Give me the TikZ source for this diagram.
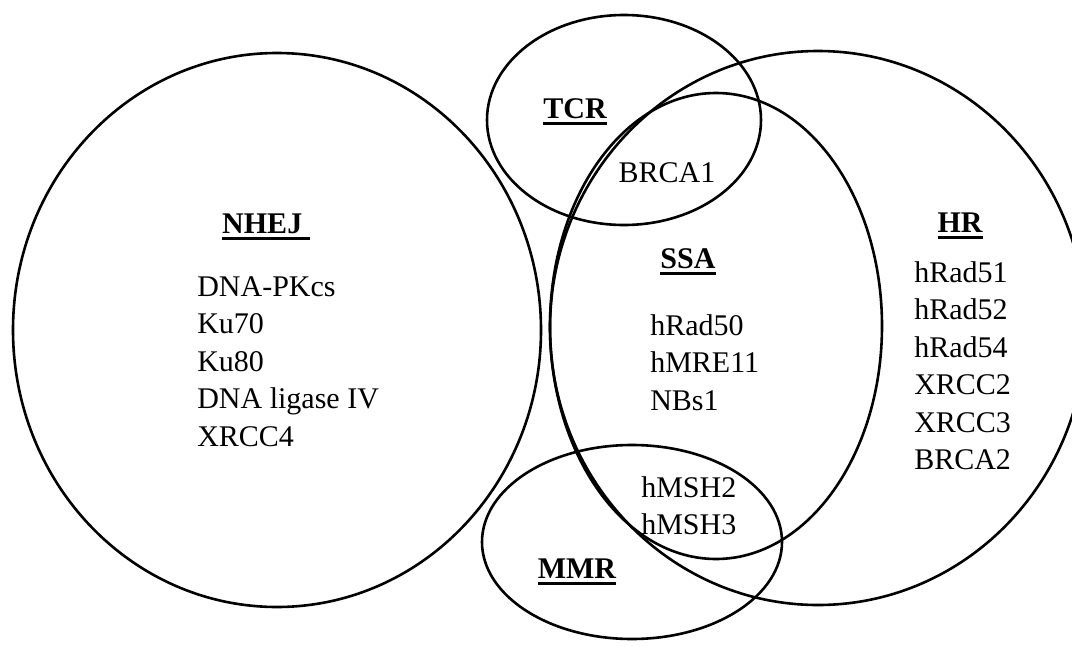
\documentclass[tikz,border=0pt]{standalone}
\usepackage{fontspec}
\setmainfont{Liberation Serif}
\usepackage{tikz}

% bold heading with a thick rule under it
\newcommand{\ulhead}[1]{\setbox0=\hbox{\bfseries #1}\rlap{\vrule height -4pt depth 7pt width \wd0}\box0}

\begin{document}
\begin{tikzpicture}[x=1pt, y=-1pt, line width=2.6pt,
		every node/.style={font=\fontsize{30}{37.5}\selectfont, inner sep=0pt},
		list/.style={anchor=north west, align=left},
		head/.style={anchor=base}]
		\useasboundingbox (0,0) rectangle (1072,646);
		\clip (0,0) rectangle (1072,646);
		
		%centres of the sets
		\coordinate (NHEJ) at (277,330);
		\coordinate (TCR) at (624,120);
		\coordinate (SSA) at (716,326);
		\coordinate (HR) at (818,328);
		\coordinate (MMR) at (632,542);
		
		%sets
		\draw (NHEJ) ellipse [x radius = 264pt, y radius = 277pt];
		\draw (TCR) ellipse [x radius = 137pt, y radius = 105pt];
		\draw (SSA) ellipse [x radius = 166pt, y radius = 233pt];
		\draw (HR) ellipse [x radius = 268pt, y radius = 277pt];
		\draw (MMR) ellipse [x radius = 150pt, y radius = 97pt];
		
		%headings
		\node [head] (nhejhead) at (266,233) {\ulhead{NHEJ\ }};
		\node [head] (tcrhead) at (575,118) {\ulhead{TCR}};
		\node [head] (ssahead) at (688,268) {\ulhead{SSA}};
		\node [head] (hrhead) at (960,232) {\ulhead{HR}};
		\node [head] (mmrhead) at (577,578) {\ulhead{MMR}};
		
		%proteins
		\node [list] (nhejlist) at (196,275) {DNA-PKcs\\Ku70\\Ku80\\DNA ligase IV\\XRCC4};
		\node [head] (tcrssa) at (667,182) {BRCA1};
		\node [list] (ssalist) at (649,313) {hRad50\\hMRE11\\NBs1};
		\node [list] (hrlist) at (913,260) {hRad51\\hRad52\\hRad54\\XRCC2\\XRCC3\\BRCA2};
		\node [list] (mmrssa) at (640,475) {hMSH2\\hMSH3};
	\end{tikzpicture}
\end{document}
